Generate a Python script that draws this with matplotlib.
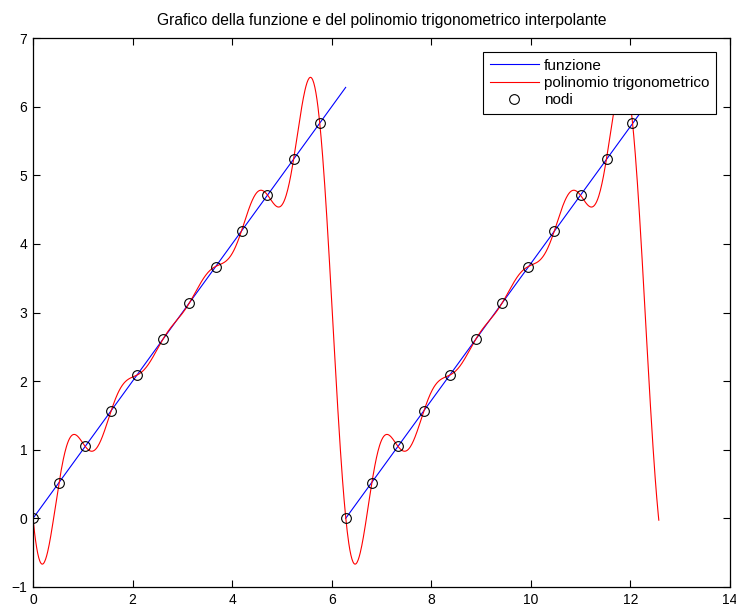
import numpy as np
import matplotlib.pyplot as plt

plt.rcParams['font.family'] = ['Liberation Sans', 'DejaVu Sans']

# nodi di interpolazione sul primo periodo [0, 2*pi) e sul secondo
node_x1 = [0.0, 0.52, 1.05, 1.57, 2.09, 2.62, 3.14, 3.67, 4.19, 4.71, 5.24, 5.76]
node_x2 = [6.28, 6.81, 7.33, 7.85, 8.38, 8.90, 9.42, 9.95, 10.47, 11.00, 11.52, 12.04]
node_y = [0.0, 0.52, 1.05, 1.57, 2.09, 2.62, 3.14, 3.67, 4.19, 4.71, 5.24, 5.76]

# funzione f(x) = x ripetuta con periodo 2*pi (due tratti)
func_x1 = [0.0, 6.28]
func_y1 = [0.0, 6.28]
func_x2 = [6.28, 12.57]
func_y2 = [0.0, 6.28]

# polinomio trigonometrico interpolante i nodi, via fft
n = len(node_y)
c = np.fft.fft(node_y) / n
k = np.fft.fftfreq(n, d=1.0 / n)
xx = np.linspace(0, func_x2[-1], 1200)
pp = np.real(np.exp(1j * np.outer(xx, k)) @ c)

fig = plt.figure(figsize=(7.36, 6.07), dpi=100)
ax = fig.add_axes([33 / 736, 20 / 607, 697 / 736, 549 / 607])

ax.plot(func_x1, func_y1, color='b', lw=0.8, label='funzione')
ax.plot(func_x2, func_y2, color='b', lw=0.8)
ax.plot(xx, pp, color='r', lw=0.8, label='polinomio trigonometrico')
ax.plot(node_x1, node_y, 'o', mfc='none', mec='k', ms=7, mew=0.8, label='nodi')
ax.plot(node_x2, node_y, 'o', mfc='none', mec='k', ms=7, mew=0.8)

ax.set_xlim(0, 14)
ax.set_ylim(-1, 7)
ax.set_xticks(range(0, 15, 2))
ax.set_yticks(range(-1, 8))
ax.tick_params(direction='in', top=True, right=True, length=5, width=0.8,
               labelsize=10, pad=4)
for s in ax.spines.values():
    s.set_linewidth(0.9)

ax.set_title('Grafico della funzione e del polinomio trigonometrico interpolante',
             fontsize=11.25, pad=9)

leg = ax.legend(loc='upper right', fontsize=11, frameon=True, fancybox=False,
                edgecolor='k', borderpad=0.45, labelspacing=0.22,
                handlelength=3.2, handletextpad=0.35, borderaxespad=0.9,
                framealpha=1)
leg.get_frame().set_linewidth(0.8)

fig.savefig('out.png', dpi=100)
